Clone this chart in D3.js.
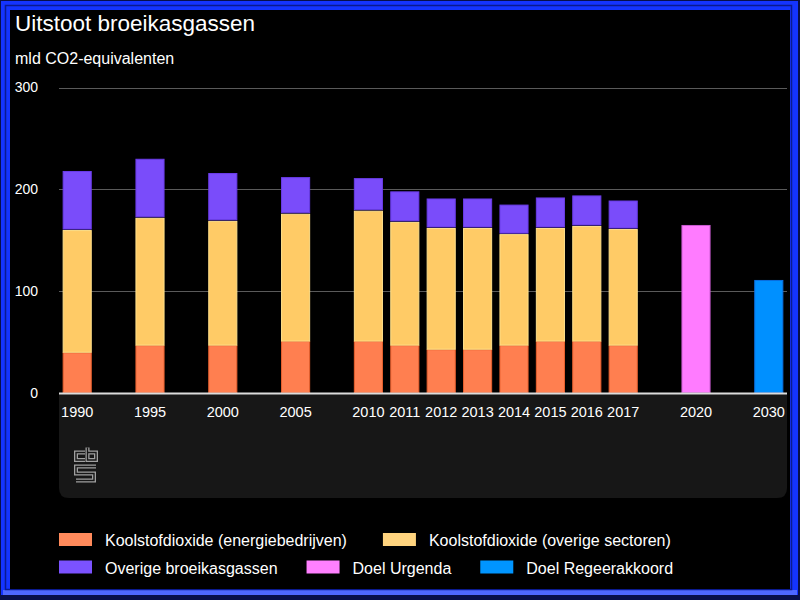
<!DOCTYPE html>
<html>
<head>
<meta charset="utf-8">
<script src="https://cdn.jsdelivr.net/npm/d3@7"></script>
<style>
html,body{margin:0;padding:0;background:#000;}
svg{display:block;font-family:"Liberation Sans",Arial,sans-serif;}
</style>
</head>
<body>
<svg id="chart" width="800" height="600"></svg>
<script>
// ---- data ----
const years = ["1990","1995","2000","2005","2010","2011","2012","2013","2014","2015","2016","2017"];
const energie = [40,47,47,51,51,47,43,43,47,51,51,47];
const overigeSectoren = [121,126,123,126,129,122,120,120,110,112,114,115];
const overigeGassen = [58,58,47,36,32,30,29,29,29,30,30,28];
const doelYears = ["2020","2030"];
const doelValues = [165,111];
const yTicks = [0,100,200,300];
const seriesNames = ["Koolstofdioxide (energiebedrijven)","Koolstofdioxide (overige sectoren)","Overige broeikasgassen","Doel Urgenda","Doel Regeerakkoord"];
const title = "Uitstoot broeikasgassen";
const subtitle = "mld CO2-equivalenten";

// ---- styles ----
const fills = ["#FF7F50","#FFCB66","#7A4CFA","#FF7BFF","#0090FF"];
const strokes = ["#E8602E","#FFE08A","#6A3CE8","#C95AD0","#0A6FE0"];
const legendFills = ["#FF8A5B","#FFD47E","#7B52FF","#FF80FF","#0095FF"];

const svg = d3.select("#chart");

// frame
svg.append("rect").attr("x",0).attr("y",0).attr("width",800).attr("height",600).attr("fill","#08104a");
svg.append("rect").attr("x",1).attr("y",1).attr("width",797).attr("height",594).attr("fill","#1434ff");
svg.append("rect").attr("x",3).attr("y",590).attr("width",794).attr("height",5).attr("fill","#4e68ff");
svg.append("rect").attr("x",5.5).attr("y",5.5).attr("width",786).attr("height",584).attr("fill","none").attr("stroke","#0a1a90").attr("stroke-width",1.5);
svg.append("rect").attr("x",10).attr("y",10).attr("width",780).attr("height",579).attr("fill","#000");

// slots (insert one empty slot where years are not consecutive)
const allYears = years.concat(doelYears);
const slots = [];
allYears.forEach((yr,i)=>{
  if(i>0 && (+yr - +allYears[i-1])>1) slots.push("gap"+i);
  slots.push(yr);
});

const x = d3.scaleBand().domain(slots).range([59,787]).paddingInner(0.2).paddingOuter(0.1);
const y = d3.scaleLinear().domain([0,300]).range([393,87.5]);

// title
svg.append("text").attr("x",15).attr("y",31).attr("fill","#fff").attr("font-size",22.5).text(title);
svg.append("text").attr("x",15).attr("y",64).attr("fill","#fff").attr("font-size",16).text(subtitle);

// lower panel
const px0=59, px1=787, py0=394, py1=498, r=10;
svg.append("path").attr("d",`M${px0},${py0}H${px1}V${py1-r}Q${px1},${py1} ${px1-r},${py1}H${px0+r}Q${px0},${py1} ${px0},${py1-r}Z`).attr("fill","#171717");

// gridlines
svg.append("g").selectAll("line").data(yTicks.filter(d=>d>0)).join("line")
  .attr("x1",59).attr("x2",787).attr("y1",d=>Math.round(y(d))+0.5).attr("y2",d=>Math.round(y(d))+0.5)
  .attr("stroke","#5a5a5a").attr("stroke-width",1);

// y axis labels
const yAxis = d3.axisLeft(y).tickValues(yTicks).tickSize(0).tickPadding(0).tickFormat(d3.format("d"));
const ya = svg.append("g").attr("transform","translate(38,0)").call(yAxis);
ya.select(".domain").remove();
ya.selectAll("text").attr("fill","#fff").attr("font-size",14).attr("font-family","Liberation Sans, Arial, sans-serif");

// stacked bars
const rows = years.map((yr,i)=>({year:yr, a:energie[i], b:overigeSectoren[i], c:overigeGassen[i]}));
const stack = d3.stack().keys(["a","b","c"])(rows);
const gBars = svg.append("g");
stack.forEach((layer,li)=>{
  gBars.append("g").selectAll("rect").data(layer).join("rect")
    .attr("x",d=>x(d.data.year)+0.5)
    .attr("width",x.bandwidth()-1)
    .attr("y",d=>y(d[1])+ (li>0?1.5:0.5))
    .attr("height",d=>Math.max(0,y(d[0])-y(d[1])-(li>0?1.5:0.5)) - (li===0?0.5:0))
    .attr("fill",fills[li]).attr("stroke",strokes[li]).attr("stroke-width",1);
});
// target bars
gBars.append("g").selectAll("rect").data(doelYears.map((yr,i)=>({year:yr,v:doelValues[i],k:3+i}))).join("rect")
  .attr("x",d=>x(d.year)+0.5).attr("width",x.bandwidth()-1)
  .attr("y",d=>y(d.v)+0.5).attr("height",d=>y(0)-y(d.v)-1)
  .attr("fill",d=>fills[d.k]).attr("stroke",d=>strokes[d.k]).attr("stroke-width",1);

// zero line
svg.append("line").attr("x1",59).attr("x2",787).attr("y1",393.5).attr("y2",393.5).attr("stroke","#dcdcdc").attr("stroke-width",2);

// x axis labels
const xAxis = d3.axisBottom(x).tickValues(allYears).tickSize(0).tickPadding(0);
const xa = svg.append("g").attr("transform","translate(0,407)").call(xAxis);
xa.select(".domain").remove();
xa.selectAll("text").attr("fill","#fff").attr("font-size",14.5).attr("font-family","Liberation Sans, Arial, sans-serif").attr("dy","0.71em");

// cbs logo
const logo = svg.append("g").attr("fill","none").attr("stroke-linejoin","miter");
const logoPaths = [
  "M85,452.5H76V460H85",          // c
  "M87.5,447.5V460H96V452.5H87.5",   // b
  "M96,466.5H76V473.5H94V480.5H76" // s
];
logoPaths.forEach(p=>{
  logo.append("path").attr("d",p).attr("stroke","#a0a0a0").attr("stroke-width",4);
  logo.append("path").attr("d",p).attr("stroke","#171717").attr("stroke-width",1.4);
});

// legend
const legRows = [[0,1],[2,3,4]];
const legBase = [546,573.5];
const legGap = [36,29];
const legend = svg.append("g");
legRows.forEach((row,ri)=>{
  let cx = 59;
  row.forEach(k=>{
    legend.append("rect").attr("x",cx).attr("y",legBase[ri]-13).attr("width",33).attr("height",13)
      .attr("fill",legendFills[k]);
    const t = legend.append("text").attr("x",cx+46).attr("y",legBase[ri]).attr("fill","#fff")
      .attr("font-size",16).text(seriesNames[k]);
    cx = cx + 46 + t.node().getComputedTextLength() + legGap[ri];
  });
});
</script>
</body>
</html>
